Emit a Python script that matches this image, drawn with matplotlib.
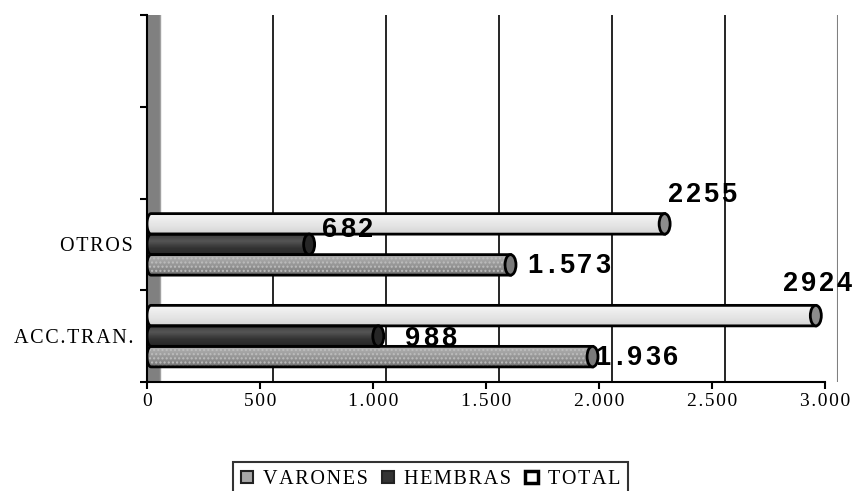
import numpy as np
import matplotlib
matplotlib.use('Agg')
import matplotlib.pyplot as plt
from matplotlib.patches import Polygon, Ellipse, Patch
from matplotlib.colors import LinearSegmentedColormap

# DATA
categories = ['ACC.TRAN.', 'OTROS']
series_names = ['VARONES', 'HEMBRAS', 'TOTAL']
varones = [1936, 1573]
hembras = [988, 682]
total = [2924, 2255]
varones_labels = ['1.936', '1.573']
hembras_labels = ['988', '682']
total_labels = ['2924', '2255']
x_ticks = [0, 500, 1000, 1500, 2000, 2500, 3000]

# LAYOUT (pixels of the 858x491 picture)
W, H = 858, 491
fig = plt.figure(figsize=(W / 100, H / 100), dpi=100)
ax = fig.add_axes([147 / W, 1 - 382 / H, 691 / W, 367 / H])

ux = 3000 / 678.0      # data units per pixel, x
uy = 4 / 367.0         # data units per pixel, y
depth = 13 * ux        # 3d depth of the back wall
bar_h = 20.5 * uy

serif = ['Liberation Serif', 'DejaVu Serif']
sp = '\u200a'


def spaced(s):
    return sp.join(s)


# WALL AND GRIDLINES
ax.axvspan(0, depth, color='#808080', zorder=0, lw=0)
ax.axvline(depth, color='#a0a0a0', lw=1, zorder=1)
for t in x_ticks[1:-1]:
    ax.axvline(t + depth, color='black', lw=1.2, zorder=1)
ax.axvline(x_ticks[-1] + depth, color='#808080', lw=1.5, zorder=1)

cmaps = {
    'VARONES': LinearSegmentedColormap.from_list('v', ['#b0b0b0', '#a2a2a2', '#8e8e8e', '#707070']),
    'HEMBRAS': LinearSegmentedColormap.from_list('h', ['#3c3c3c', '#555555', '#333333', '#262626']),
    'TOTAL': LinearSegmentedColormap.from_list('t', ['#f6f6f6', '#ececec', '#e2e2e2', '#d4d4d4']),
}
cap_colors = {'VARONES': '#7a7a7a', 'HEMBRAS': '#262626', 'TOTAL': '#8c8c8c'}
# label offsets in px from (value, bar centre): text left edge, text centre
label_offsets = {
    'VARONES': [(10.5, -1), (24.5, -1)],
    'HEMBRAS': [(35, 0), (21, -17)],
    'TOTAL': [(-25, -34), (11, -31)],
}


def draw_bar(value, yc, name):
    x_end = value + 8 * ux
    rx = 4 * ux
    ry = bar_h / 2
    t = np.linspace(np.pi / 2, 3 * np.pi / 2, 25)
    arc = np.column_stack([rx + rx * np.cos(t), yc + ry * np.sin(t)])
    pts = np.vstack([[x_end, yc + ry], arc, [x_end, yc - ry]])
    poly = Polygon(pts, closed=True, facecolor='none', edgecolor='black', lw=2, zorder=4)
    ax.add_patch(poly)
    grad = np.linspace(0, 1, 64).reshape(-1, 1)
    im = ax.imshow(grad, extent=(0, x_end, yc - ry, yc + ry), origin='upper', aspect='auto',
                   cmap=cmaps[name], interpolation='bilinear', zorder=3)
    im.set_clip_path(poly)
    if name == 'VARONES':
        dots = Polygon(pts, closed=True, facecolor='none', edgecolor='#bdbdbd', lw=0,
                       hatch='....', zorder=3.5)
        ax.add_patch(dots)
    cap = Ellipse((x_end, yc), 11 * ux, bar_h, facecolor=cap_colors[name],
                  edgecolor='black', lw=2, zorder=5)
    ax.add_patch(cap)


def draw_label(value, yc, s, dx, dy):
    pos = dx - 1.5
    for ch in s:
        w = 14 if ch == '.' else 18
        ax.annotate(ch, xy=(value, yc), xytext=((pos + w / 2) * 0.72, -(dy + 9.5) * 0.72),
                    textcoords='offset points', ha='center', va='baseline', fontsize=19.5,
                    fontweight='bold', family=['Liberation Sans', 'DejaVu Sans'],
                    zorder=6, annotation_clip=False)
        pos += w


values = {'VARONES': varones, 'HEMBRAS': hembras, 'TOTAL': total}
labels = {'VARONES': varones_labels, 'HEMBRAS': hembras_labels, 'TOTAL': total_labels}
shift = {'VARONES': -bar_h, 'HEMBRAS': 0, 'TOTAL': bar_h}

for i in range(len(categories)):
    c = i + 0.5
    for name in series_names:
        draw_bar(values[name][i], c + shift[name], name)
for i in range(len(categories)):
    c = i + 0.5
    for name in series_names:
        dx, dy = label_offsets[name][i]
        draw_label(values[name][i], c + shift[name], labels[name][i], dx, dy)

ax.set_xlim(0, x_ticks[-1] + depth)
ax.set_ylim(0, 4)

# AXES
for s in ['top', 'right']:
    ax.spines[s].set_visible(False)
ax.spines['left'].set_linewidth(1.5)
ax.spines['bottom'].set_linewidth(1.5)
ax.spines['bottom'].set_bounds(0, x_ticks[-1])
ax.set_xticks(x_ticks)
ax.set_xticklabels([spaced(f'{v:,}'.replace(',', '.')) for v in x_ticks],
                   family=serif, fontsize=14)
ax.tick_params(axis='x', length=5, width=1.5, pad=3)
ax.set_yticks(range(5))
ax.set_yticklabels([])
ax.tick_params(axis='y', which='major', length=5, width=1.5)
ax.set_yticks([i + 0.5 for i in range(len(categories))], minor=True)
ax.set_yticklabels([spaced(c) for c in categories], minor=True, family=serif, fontsize=14.5)
ax.tick_params(axis='y', which='minor', length=0, pad=10)

# LEGEND
handles = [Patch(facecolor='#a8a8a8', edgecolor='#222222', lw=1.5),
           Patch(facecolor='#333333', edgecolor='#222222', lw=1.5),
           Patch(facecolor='white', edgecolor='black', lw=2.5)]
leg = fig.legend(handles, [spaced(n) for n in series_names], loc='upper left',
                 bbox_to_anchor=(233 / W, 1 - 462 / H), ncol=3, frameon=True, fancybox=False,
                 edgecolor='black', borderaxespad=0, handlelength=0.6, handleheight=0.6,
                 handletextpad=0.5, columnspacing=0.7, borderpad=0.4,
                 prop={'family': serif, 'size': 14.5})
leg.get_frame().set_linewidth(1.5)

fig.savefig('out.png', dpi=100, facecolor='white')
